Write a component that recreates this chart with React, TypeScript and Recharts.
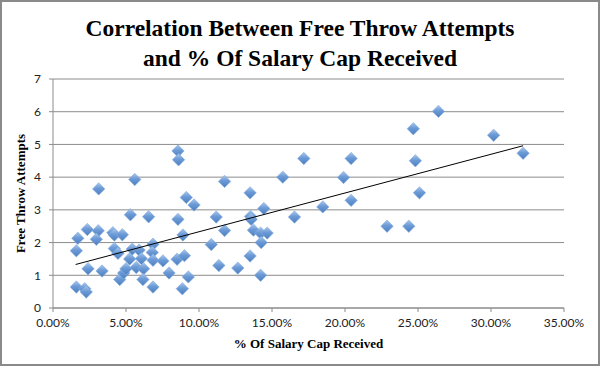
import { ScatterChart, Scatter, XAxis, YAxis, CartesianGrid } from "recharts";

// % of salary cap received (x, in percent) vs free throw attempts (y)
const capPct = [
  1.6, 1.7, 2.35, 3.1, 2.97, 3.13, 2.4, 3.36, 1.6, 2.17, 2.28,
  4.1, 4.2, 4.75, 4.2, 4.45, 4.57, 4.84, 5.0, 5.25, 5.3, 5.6,
  5.43, 5.7, 5.9, 6.05, 6.2, 6.16, 6.55, 6.85, 6.85, 6.8, 6.85,
  7.53, 7.95, 8.56, 8.6, 8.56, 8.5, 9.0, 8.9, 9.13, 9.66, 9.27, 8.86,
  11.18, 11.75, 11.75, 10.84, 11.36, 12.66, 13.5, 13.53, 13.57, 13.73,
  13.5, 14.22, 14.26, 14.22, 14.44, 14.67, 15.74, 16.54, 17.18, 18.48,
  19.9, 20.42, 20.42, 22.88, 24.37, 24.68, 24.82, 25.1, 26.4, 30.18, 32.2,
];
const ftAttempts = [
  1.75, 2.13, 2.4, 2.36, 2.1, 3.64, 1.2, 1.13, 0.64, 0.59, 0.49,
  2.3, 2.23, 2.24, 1.82, 1.67, 0.87, 1.07, 1.2, 1.5, 2.85, 3.93,
  1.8, 1.24, 1.77, 1.51, 1.2, 0.87, 2.79, 0.64, 1.95, 1.7, 1.46,
  1.44, 1.07, 4.8, 4.53, 2.71, 1.49, 1.6, 2.23, 3.38, 3.15, 0.95, 0.59,
  2.78, 3.87, 2.37, 1.94, 1.3, 1.22, 3.52, 2.8, 2.71, 2.38,
  1.59, 2.29, 2.0, 1.0, 3.04, 2.29, 4.0, 2.78, 4.57, 3.09,
  3.99, 4.57, 3.29, 2.5, 2.5, 5.48, 4.5, 3.52, 6.01, 5.28, 4.73,
];

// linear trendline endpoints as drawn
const trendX = [1.55, 32.2];
const trendY = [1.33, 4.96];

const xTicks = [0, 5, 10, 15, 20, 25, 30, 35];
const yTicks = [0, 1, 2, 3, 4, 5, 6, 7];

const points = capPct.map((x, i) => ({ x, y: ftAttempts[i] }));
const trend = trendX.map((x, i) => ({ x, y: trendY[i] }));

const Diamond = (props: any) => {
  const { cx, cy } = props;
  if (cx == null || cy == null) return null;
  const r = 6.2;
  return (
    <polygon
      points={`${cx},${cy - r} ${cx + r},${cy} ${cx},${cy + r} ${cx - r},${cy}`}
      fill="url(#diamondFill)"
      stroke="#86acdc"
      strokeWidth={0.6}
    />
  );
};

const serif = "'Liberation Serif', 'DejaVu Serif', serif";
const sans = "Lato, 'Liberation Sans', sans-serif";

export default function App() {
  return (
    <div
      style={{
        position: "absolute",
        left: 0,
        top: 0,
        width: 600,
        height: 366,
        border: "2px solid #8a8a8a",
        boxSizing: "border-box",
        background: "#fff",
      }}
    >
      <div
        style={{
          position: "absolute",
          left: 0,
          top: 11,
          width: 596,
          textAlign: "center",
          fontFamily: serif,
          fontWeight: "bold",
          fontSize: 23.5,
          lineHeight: "30px",
          color: "#000",
        }}
      >
        Correlation Between Free Throw Attempts
        <br />
        and % Of Salary Cap Received
      </div>
      <ScatterChart
        width={596}
        height={362}
        margin={{ top: 77, right: 34, bottom: 12, left: 0 }}
      >
        <defs>
          <linearGradient id="diamondFill" x1="0" y1="0" x2="0" y2="1">
            <stop offset="0%" stopColor="#a9c8ee" />
            <stop offset="45%" stopColor="#6c9ad6" />
            <stop offset="100%" stopColor="#4b7fc0" />
          </linearGradient>
        </defs>
        <CartesianGrid vertical={false} stroke="#8c8c8c" />
        <XAxis
          type="number"
          dataKey="x"
          domain={[0, 35]}
          ticks={xTicks}
          tickFormatter={(v: number) => `${v.toFixed(2)}%`}
          stroke="#8c8c8c"
          tickSize={4}
          tickMargin={6}
          tick={{ fill: "#222", fontSize: 12, fontFamily: sans }}
          height={44}
          label={{
            value: "% Of Salary Cap Received",
            position: "insideBottom",
            offset: 4,
            fill: "#000",
            fontSize: 13,
            fontWeight: "bold",
            fontFamily: serif,
          }}
        />
        <YAxis
          type="number"
          dataKey="y"
          domain={[0, 7]}
          ticks={yTicks}
          stroke="#8c8c8c"
          tickSize={4}
          tickMargin={8}
          tick={{ fill: "#222", fontSize: 12, fontFamily: sans }}
          width={51}
          label={{
            value: "Free Throw Attempts",
            angle: -90,
            position: "insideLeft",
            offset: 18,
            textAnchor: "middle",
            fill: "#000",
            fontSize: 13,
            fontWeight: "bold",
            fontFamily: serif,
          }}
        />
        <Scatter data={points} shape={Diamond} isAnimationActive={false} />
        <Scatter
          data={trend}
          line={{ stroke: "#000", strokeWidth: 1 }}
          shape={() => null}
          isAnimationActive={false}
        />
      </ScatterChart>
    </div>
  );
}
